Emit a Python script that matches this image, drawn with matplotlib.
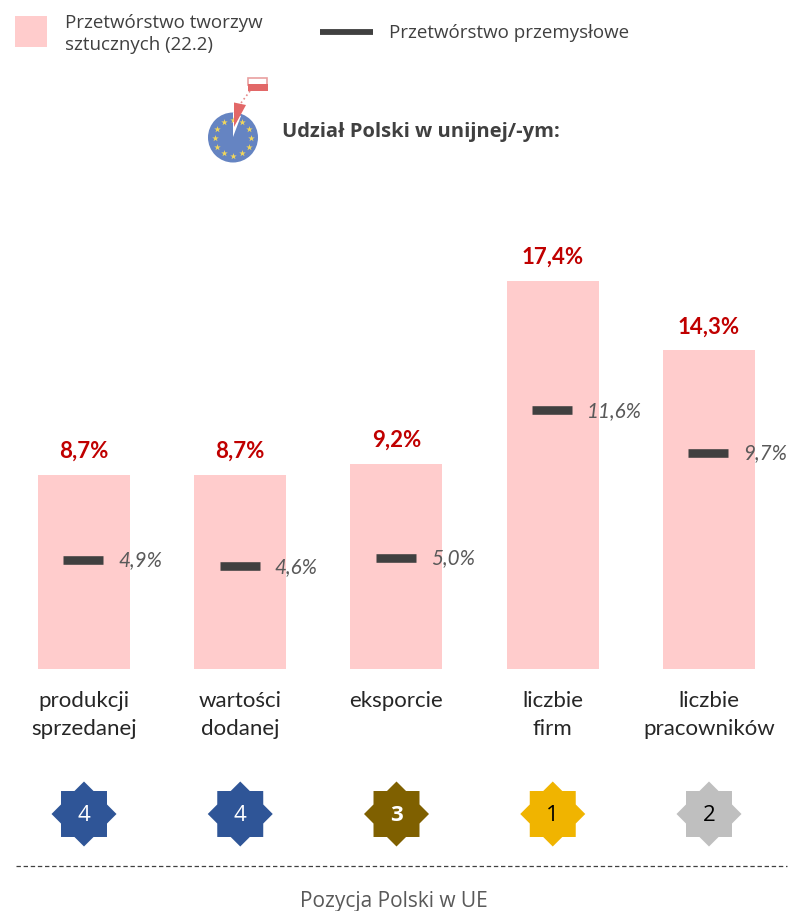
import numpy as np
import matplotlib
matplotlib.use('Agg')
import matplotlib.pyplot as plt
from matplotlib.patches import Circle, Polygon, Rectangle

# dane
categories = ['produkcji\nsprzedanej', 'wartości\ndodanej', 'eksporcie', 'liczbie\nfirm', 'liczbie\npracowników']
plastics = [8.7, 8.7, 9.2, 17.4, 14.3]
industry = [4.9, 4.6, 5.0, 11.6, 9.7]
ranks = [4, 4, 3, 1, 2]
rank_colors = ['#2F5597', '#2F5597', '#7F6000', '#F0B400', '#BFBFBF']
rank_text = ['white', 'white', 'white', 'black', 'black']

plt.rcParams['font.family'] = ['Lato', 'DejaVu Sans']
open_sans = ['Open Sans', 'DejaVu Sans']

fig = plt.figure(figsize=(7.92, 9.12), dpi=100)

# os wykresu: 1 kategoria = 156.25 px, 1 punkt procentowy = 22.3 px
ax = fig.add_axes([0, (912 - 670) / 912, 1, 670 / 912])
ax.set_xlim(-84 / 156.25, (792 - 84) / 156.25)
ax.set_ylim(0, 670 / 22.3)
ax.axis('off')

x = np.arange(len(categories))
ax.bar(x, plastics, width=92 / 156.25, color='#FFCCCC', linewidth=0)
ax.hlines(industry, x - 20.5 / 156.25, x + 19.5 / 156.25, color='#404040', linewidth=6.2)

for i in x:
    ax.text(i, plastics[i] + 0.62, f'{plastics[i]:.1f}%'.replace('.', ','), ha='center', va='bottom',
            color='#C00000', fontsize=16, fontweight='bold')
    ax.text(i + 34.5 / 156.25, industry[i] + 0.02, f'{industry[i]:.1f}%'.replace('.', ','), ha='left', va='center',
            color='#595959', fontsize=14.9, fontstyle='italic')

# nakladka w pikselach
ov = fig.add_axes([0, 0, 1, 1])
ov.set_xlim(0, 792)
ov.set_ylim(912, 0)
ov.axis('off')
ov.patch.set_alpha(0)

centers = ax.transData.transform(np.column_stack([x, np.zeros(len(x))]))[:, 0]

for cx, cat in zip(centers, categories):
    ov.text(cx, 691, cat, ha='center', va='top', fontsize=16, color='#262626', linespacing=1.52)

# gwiazdy z pozycja
ang = np.arange(16) * np.pi / 8
rad = np.where(np.arange(16) % 2 == 0, 32.5, 24.9)
for cx, r, c, tc in zip(centers, ranks, rank_colors, rank_text):
    star = np.column_stack([cx + rad * np.cos(ang), 815 + rad * np.sin(ang)])
    ov.add_patch(Polygon(star, closed=True, facecolor=c, edgecolor='none'))
    ov.text(cx, 815.5, str(r), ha='center', va='center', color=tc, fontsize=16,
            fontweight='bold' if r == 3 else 'normal', family=open_sans)

ov.plot([16, 787], [867, 867], color='#404040', linewidth=0.9, linestyle=(0, (3.5, 2.2)))
ov.text(394, 902, 'Pozycja Polski w UE', ha='center', va='center', fontsize=15,
        color='#595959', family=open_sans)

# legenda
ov.add_patch(Rectangle((15, 17), 32, 31, facecolor='#FFCCCC', edgecolor='none'))
ov.text(65, 34, 'Przetwórstwo tworzyw\nsztucznych (22.2)', ha='left', va='center', fontsize=13.5,
        color='#404040', linespacing=1.3, family=open_sans)
ov.plot([320, 373], [33, 33], color='#404040', linewidth=4.2, solid_capstyle='butt')
ov.text(389, 33, 'Przetwórstwo przemysłowe', ha='left', va='center', fontsize=13.5,
        color='#404040', family=open_sans)

# ikona UE
ov.add_patch(Circle((233, 138.5), 25, facecolor='#6584C2', edgecolor='none'))
ov.add_patch(Polygon([(233, 138), (233, 113), (241, 117)], facecolor='white', edgecolor='none'))
star_ang = np.arange(12) * np.pi / 6
ov.scatter(233 + 18 * np.cos(star_ang), 138.5 + 18 * np.sin(star_ang), marker='*', s=24,
           color='#F2D75A', linewidth=0)
ov.add_patch(Polygon([(234, 103.5), (246, 106), (234, 128)], facecolor='#E26868', edgecolor='none'))
ov.plot([250, 241], [92, 104], color='#E58A8A', linewidth=1.2, linestyle=':')
ov.add_patch(Rectangle((248, 78.5), 19, 7, facecolor='white', edgecolor='#E9A0A0', linewidth=1.2))
ov.add_patch(Rectangle((247.5, 85), 20, 6.5, facecolor='#E26868', edgecolor='none'))
ov.text(282, 132, 'Udział Polski w unijnej/-ym:', ha='left', va='center', fontsize=14.5,
        fontweight='bold', color='#404040', family=open_sans)

fig.savefig('out.png', dpi=100)
